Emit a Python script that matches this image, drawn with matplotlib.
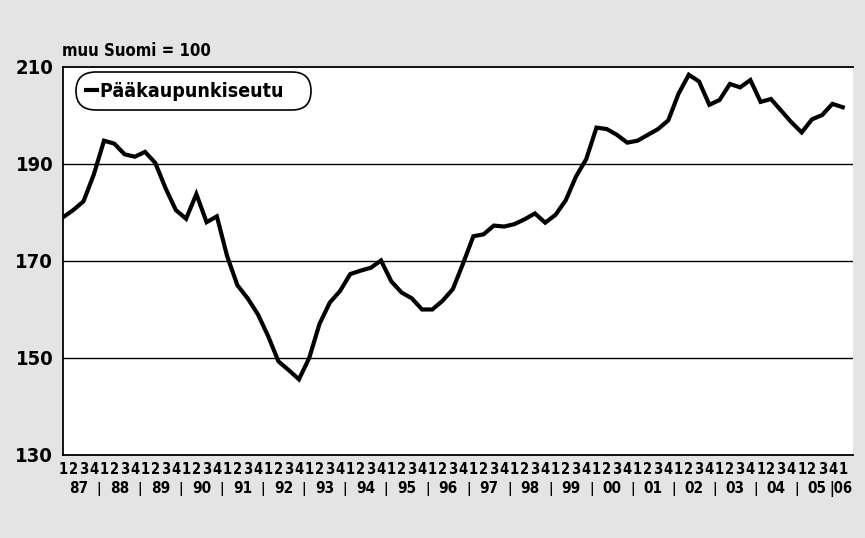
import matplotlib
matplotlib.use("Agg")
import matplotlib.pyplot as plt
import matplotlib.transforms as mtransforms

# Pääkaupunkiseudun indeksi, muu Suomi = 100, neljännesvuosittain 1987Q1-2006Q1
vuodet = ['87', '88', '89', '90', '91', '92', '93', '94', '95', '96',
          '97', '98', '99', '00', '01', '02', '03', '04', '05', '06']
neljannekset = ['1', '2', '3', '4']
arvot = [179.0, 180.5, 182.3, 187.8,
         194.8, 194.2, 192.0, 191.5,
         192.5, 190.2, 185.0, 180.5,
         178.7, 183.8, 178.0, 179.2,
         171.0, 165.0, 162.3, 159.0,
         154.5, 149.3, 147.5, 145.6,
         150.0, 157.0, 161.4, 163.8,
         167.3, 168.0, 168.6, 170.1,
         165.8, 163.5, 162.3, 160.0,
         160.0, 161.8, 164.2, 169.5,
         175.1, 175.5, 177.3, 177.1,
         177.6, 178.6, 179.8, 177.9,
         179.5, 182.5, 187.4, 191.0,
         197.5, 197.2, 196.0, 194.4,
         194.8, 196.0, 197.2, 199.0,
         204.5, 208.4, 207.0, 202.2,
         203.2, 206.5, 205.8, 207.3,
         202.8, 203.4, 201.0, 198.6,
         196.5, 199.2, 200.1, 202.4,
         201.7]
yticks = [130, 150, 170, 190, 210]

plt.rcParams['font.family'] = ['DejaVu Sans']
plt.rcParams['font.stretch'] = 'condensed'
plt.rcParams['font.weight'] = 'bold'

fig = plt.figure(figsize=(8.65, 5.38), dpi=100, facecolor='#e4e4e4')
ax = fig.add_axes([0.0728, 0.1543, 0.9133, 0.7212])
ax.set_facecolor('white')

x = list(range(len(arvot)))
ax.plot(x, arvot, color='black', lw=3.0, solid_joinstyle='miter', label='Pääkaupunkiseutu', zorder=3)

ax.set_xlim(0, 77)
ax.set_ylim(130, 210)
ax.set_yticks(yticks)
ax.set_yticklabels([str(v) for v in yticks], fontsize=14.5)
for v in yticks[1:-1]:
    ax.axhline(v, color='black', lw=1.0, zorder=1)

qlabels = [neljannekset[i % 4] for i in x]
ax.set_xticks(x)
ax.set_xticklabels(qlabels, fontsize=10.5)
ax.tick_params(axis='both', length=0)
ax.tick_params(axis='x', pad=5)
ax.tick_params(axis='y', pad=7)

for side in ['top', 'left', 'bottom']:
    ax.spines[side].set_linewidth(1.3)
ax.spines['right'].set_visible(False)

# vuosiotsikot neljännesten alle, erottimena pystyviiva
trans = mtransforms.blended_transform_factory(ax.transData, ax.transAxes)
viimeinen = len(vuodet) - 1
for i, v in enumerate(vuodet):
    if i == viimeinen:
        ax.text(i * 4 + 0.95, -0.087, '|' + v, transform=trans, ha='right', va='center', fontsize=10.5)
        continue
    ax.text(i * 4 + 1.5, -0.087, v, transform=trans, ha='center', va='center', fontsize=11)
    if i < viimeinen - 1:
        ax.text(i * 4 + 3.5, -0.087, '|', transform=trans, ha='center', va='center', fontsize=10)

fig.text(0.072, 0.905, 'muu Suomi = 100', ha='left', va='center', fontsize=12)

leg = ax.legend(loc='upper left', bbox_to_anchor=(0.017, 0.987), fontsize=14,
                handlelength=0.55, handletextpad=0.15, borderpad=0.5,
                borderaxespad=0, frameon=True, fancybox=True)
leg.get_texts()[0].set_text('Pääkaupunkiseutu\u00a0\u00a0\u00a0')
frame = leg.get_frame()
frame.set_boxstyle('round,pad=0,rounding_size=1.0')
frame.set_edgecolor('black')
frame.set_linewidth(1.2)
frame.set_alpha(1)

fig.savefig('out.png', dpi=100, facecolor=fig.get_facecolor())
